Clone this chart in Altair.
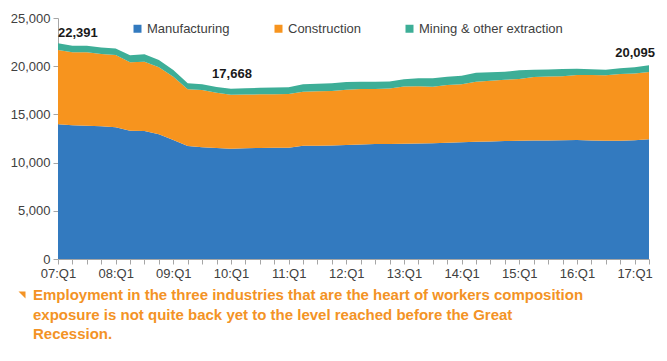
import altair as alt
import pandas as pd

years = ["07", "08", "09", "10", "11", "12", "13", "14", "15", "16", "17"]
quarters = []
for y in years:
    for q in ["Q1", "Q2", "Q3", "Q4"]:
        quarters.append(f"{y}:{q}")
quarters = quarters[:42]  # 07:Q1 .. 17:Q2

series_names = ["Manufacturing", "Construction", "Mining & other extraction"]
series_colors = ["#337ABF", "#F7941E", "#3DAE97"]

manufacturing = [13970, 13870, 13830, 13760, 13660, 13310, 13280, 12930, 12340, 11720,
                 11580, 11510, 11440, 11500, 11510, 11530, 11550, 11740, 11760, 11770,
                 11830, 11890, 11920, 11940, 11960, 11980, 12000, 12050, 12110, 12170,
                 12200, 12230, 12260, 12280, 12300, 12320, 12340, 12280, 12270, 12270,
                 12330, 12420]
construction = [7710, 7570, 7610, 7500, 7500, 7090, 7190, 6950, 6570, 5880,
                5950, 5740, 5600, 5560, 5570, 5570, 5570, 5620, 5640, 5660,
                5730, 5740, 5710, 5740, 5940, 5950, 5880, 6000, 6020, 6220,
                6300, 6370, 6410, 6600, 6620, 6650, 6740, 6820, 6780, 6910,
                6920, 6980]
mining = [711, 690, 680, 670, 670, 740, 760, 760, 700, 640,
          600, 590, 628, 640, 680, 680, 690, 760, 770, 790,
          810, 760, 760, 740, 750, 810, 860, 850, 890, 940,
          870, 830, 900, 740, 750, 730, 660, 580, 590, 620,
          650, 695]

label_quarters = ["07:Q1", "10:Q1", "17:Q2"]
label_totals = [22391, 17668, 20095]

caption_lines = [
    "Employment in the three industries that are the heart of workers composition",
    "exposure is not quite back yet to the level reached before the Great",
    "Recession.",
]

rows = []
for k, (name, vals) in enumerate(zip(series_names, [manufacturing, construction, mining])):
    for q, v in zip(quarters, vals):
        rows.append({"quarter": q, "series": name, "value": v, "order": k})
df = pd.DataFrame(rows)

labels = pd.DataFrame({"quarter": label_quarters, "total": label_totals,
                       "text": [f"{v:,}" for v in label_totals]})

FONT = "Liberation Sans"
AXIS_GRAY = "#A6A6A6"

x_scale = alt.Scale(domain=quarters, padding=0)
y_scale = alt.Scale(domain=[0, 25000], nice=False)

x_axis = alt.Axis(title=None, labelAngle=0,
                  labelExpr="indexof(datum.value, 'Q1') >= 0 ? datum.value : ''",
                  labelFont=FONT, labelFontSize=13, labelColor="#404040",
                  domainColor=AXIS_GRAY, tickColor=AXIS_GRAY, tickSize=5,
                  labelPadding=3, labelOverlap=False)
y_axis = alt.Axis(title=None, values=[0, 5000, 10000, 15000, 20000, 25000], format=",.0f",
                  grid=False, labelFont=FONT, labelFontSize=13, labelColor="#404040",
                  domainColor=AXIS_GRAY, tickColor=AXIS_GRAY, tickSize=5, labelPadding=3)

area = alt.Chart(df).mark_area(opacity=1, interpolate="linear").encode(
    x=alt.X("quarter:O", sort=quarters, scale=x_scale, axis=x_axis),
    y=alt.Y("value:Q", stack="zero", scale=y_scale, axis=y_axis),
    color=alt.Color("series:N", sort=series_names,
                    scale=alt.Scale(domain=series_names, range=series_colors),
                    legend=alt.Legend(title=None, orient="none", direction="horizontal",
                                      legendX=73, legendY=4, symbolType="square", symbolSize=64,
                                      labelFont=FONT, labelFontSize=13, labelColor="#404040",
                                      columnPadding=42, symbolOffset=0, labelOffset=3)),
    order=alt.Order("order:Q"),
)


def label_layer(q, align, dx, dy):
    return alt.Chart(labels).transform_filter(alt.datum.quarter == q).mark_text(
        font=FONT, fontWeight="bold", fontSize=13, color="#1A1A1A",
        align=align, baseline="bottom", dx=dx, dy=dy
    ).encode(
        x=alt.X("quarter:O", sort=quarters, scale=x_scale, axis=x_axis),
        y=alt.Y("total:Q", scale=y_scale, axis=y_axis),
        text="text:N",
    )


lbl_left = label_layer("07:Q1", "left", 0, -3)
lbl_mid = label_layer("10:Q1", "center", 1, -8)
lbl_right = label_layer("17:Q2", "right", 6, -5)

caption = alt.Chart(pd.DataFrame({"a": [0]})).mark_text(
    text=caption_lines, font=FONT, fontWeight="bold", fontSize=15, color="#F39325",
    align="left", baseline="top", lineHeight=19.5
).encode(x=alt.value(-25), y=alt.value(270))

marker = alt.Chart(pd.DataFrame({"a": [0]})).mark_point(
    shape="M-1,-1L1,-1L1,1Z", filled=True, size=49, color="#F39325", opacity=1
).encode(x=alt.value(-36), y=alt.value(277))

chart = alt.layer(area, lbl_left, lbl_mid, lbl_right, caption, marker).properties(
    width=591, height=241,
    autosize=alt.AutoSizeParams(type="none"),
    padding={"left": 50, "top": 10, "right": 10, "bottom": 94},
    background="white",
).configure_view(stroke=None)

chart.save("out.html", embed_options={"renderer": "svg", "actions": False})
